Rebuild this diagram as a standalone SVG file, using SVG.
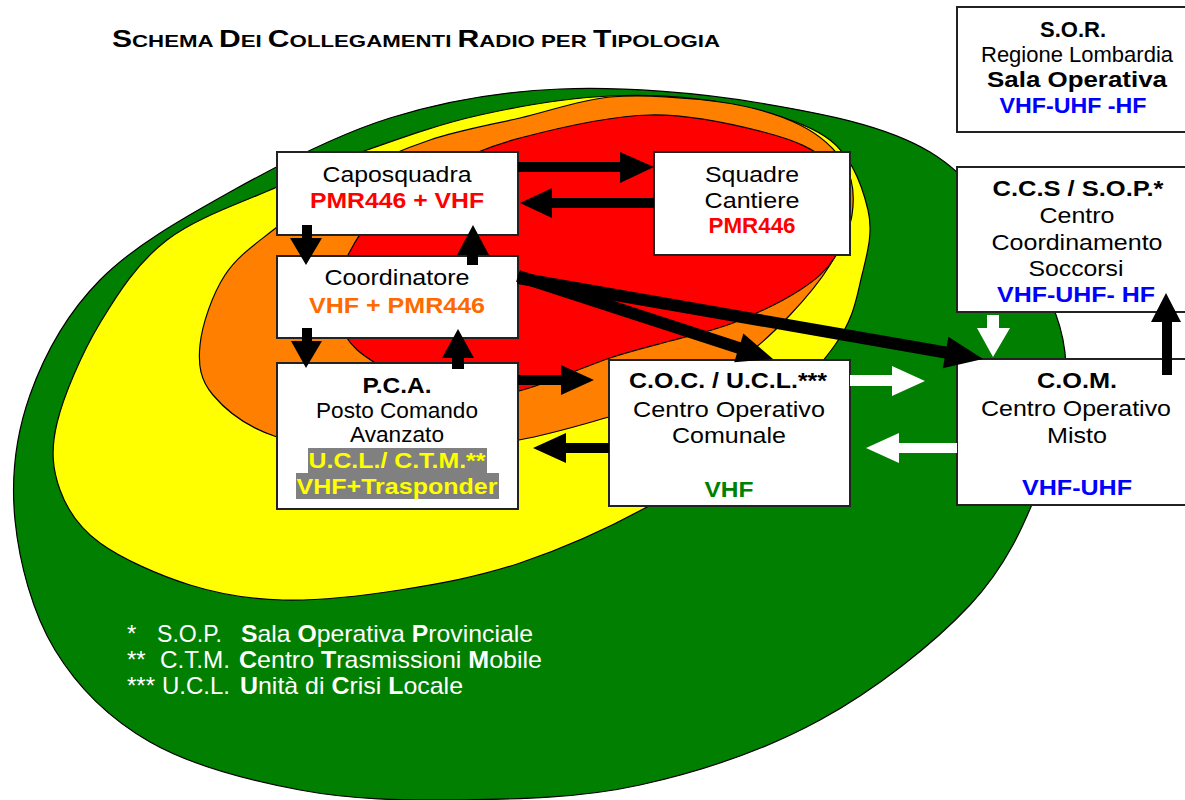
<svg xmlns="http://www.w3.org/2000/svg" width="1185" height="800" viewBox="0 0 1185 800">
<style>
text{font-family:"Liberation Sans",Arial,sans-serif;font-size:21.5px;fill:#000;text-anchor:middle}
.b{font-weight:bold;font-size:22px}
.box{fill:#fff;stroke:#222;stroke-width:2}
.zone{stroke:#000;stroke-width:1.2}
.blk{fill:#000}
.wht{fill:#fff}
.red{fill:#ff0000}
.org{fill:#ff6a00}
.blu{fill:#0000ff}
.grn{fill:#008000}
.yel{fill:#ffff00}
.leg{fill:#fff;text-anchor:start;font-size:24px}
.leg tspan.i{font-weight:bold}
</style>
<rect x="0" y="0" width="1185" height="800" fill="#fff"/>
<g id="zones">
<path class="zone" fill="#007f00" d="M560,89 C621.7,86.5 698.3,92.5 760,103 C821.7,113.5 885,125 930,152 C975,179 1007.3,229.5 1030,265 C1052.7,300.5 1064.3,328.3 1066,365 C1067.7,401.7 1056,445 1040,485 C1024,525 1006.7,565.8 970,605 C933.3,644.2 875,690 820,720 C765,750 700,771.7 640,785 C580,798.3 516.7,799.2 460,800 C403.3,800.8 351.7,799.7 300,790 C248.3,780.3 190.8,765.3 150,742 C109.2,718.7 77.5,687 55,650 C32.5,613 19.2,562.5 15,520 C10.8,477.5 15.8,435 30,395 C44.2,355 66.7,313.8 100,280 C133.3,246.2 181.7,219 230,192 C278.3,165 335,135.2 390,118 C445,100.8 498.3,91.5 560,89 Z"/>
<path class="zone" fill="#ffff00" d="M610,96 C651.7,94.2 693.3,96.7 730,104 C766.7,111.3 807,122.3 830,140 C853,157.7 862.7,187.5 868,210 C873.3,232.5 867.5,252.5 862,275 C856.5,297.5 854.5,317.5 835,345 C815.5,372.5 776.3,413 745,440 C713.7,467 684.5,486.5 647,507 C609.5,527.5 561.2,549.2 520,563 C478.8,576.8 439.5,583.8 400,590 C360.5,596.2 318,600.8 283,600 C248,599.2 220.5,594.5 190,585 C159.5,575.5 121.7,558.8 100,543 C78.3,527.2 67.2,510 60,490 C52.8,470 50.3,450.8 57,423 C63.7,395.2 81.7,353.5 100,323 C118.3,292.5 137.5,262.7 167,240 C196.5,217.3 243.7,202 277,187 C310.3,172 333.2,162 367,150 C400.8,138 439.5,124 480,115 C520.5,106 568.3,97.8 610,96 Z"/>
<path class="zone" fill="#ff8000" d="M610,97 C643.3,94.3 688.3,97.5 720,102 C751.7,106.5 779.2,114.5 800,125 C820.8,135.5 836.3,150 845,165 C853.7,180 854.5,198.3 852,215 C849.5,231.7 840.3,248.3 830,265 C819.7,281.7 805,299.2 790,315 C775,330.8 758.3,346.7 740,360 C721.7,373.3 701.8,385.5 680,395 C658.2,404.5 635.8,409.5 609,417 C582.2,424.5 553.8,433.5 519,440 C484.2,446.5 440.3,456.5 400,456 C359.7,455.5 308.2,447.2 277,437 C245.8,426.8 225.8,410.3 213,395 C200.2,379.7 198,365 200,345 C202,325 212.2,294.7 225,275 C237.8,255.3 256.2,243.7 277,227 C297.8,210.3 324.5,189.5 350,175 C375.5,160.5 401.7,149.5 430,140 C458.3,130.5 490,125 520,118 C550,111 576.7,100.7 610,97 Z"/>
<path class="zone" fill="#ff0000" d="M650,115 C691.2,114.2 737.3,125.2 767,133 C796.7,140.8 814.2,149.2 828,162 C841.8,174.8 848.8,194.2 850,210 C851.2,225.8 843.3,243.7 835,257 C826.7,270.3 817,279 800,290 C783,301 754.7,314.5 733,323 C711.3,331.5 690.5,335.2 670,341 C649.5,346.8 635.2,349.7 610,358 C584.8,366.3 545.7,384.2 519,391 C492.3,397.8 473.7,403.5 450,399 C426.3,394.5 394.5,374.7 377,364 C359.5,353.3 351.8,346.5 345,335 C338.2,323.5 335.5,308.3 336,295 C336.5,281.7 340.7,269.2 348,255 C355.3,240.8 364.7,224.2 380,210 C395.3,195.8 416.7,182 440,170 C463.3,158 485,147.2 520,138 C555,128.8 608.8,115.8 650,115 Z"/>
</g>
<text x="112" y="47" class="b" style="text-anchor:start" textLength="608" lengthAdjust="spacingAndGlyphs"><tspan font-size="23">S</tspan><tspan font-size="17">CHEMA </tspan><tspan font-size="23">D</tspan><tspan font-size="17">EI </tspan><tspan font-size="23">C</tspan><tspan font-size="17">OLLEGAMENTI </tspan><tspan font-size="23">R</tspan><tspan font-size="17">ADIO PER </tspan><tspan font-size="23">T</tspan><tspan font-size="17">IPOLOGIA</tspan></text>
<g id="sor">
<rect class="box" x="957" y="7" width="240" height="125"/>
<text class="b" x="1073" y="37" textLength="66" lengthAdjust="spacingAndGlyphs">S.O.R.</text>
<text x="1077" y="62" textLength="192" lengthAdjust="spacingAndGlyphs">Regione Lombardia</text>
<text class="b" x="1077" y="87" textLength="180" lengthAdjust="spacingAndGlyphs">Sala Operativa</text>
<text class="b blu" x="1073" y="113" textLength="147" lengthAdjust="spacingAndGlyphs">VHF-UHF -HF</text>
</g>
<g id="ccs">
<rect class="box" x="957" y="167" width="240" height="145"/>
<text class="b" x="1078" y="196" textLength="171" lengthAdjust="spacingAndGlyphs">C.C.S / S.O.P.*</text>
<text x="1077" y="223" textLength="75" lengthAdjust="spacingAndGlyphs">Centro</text>
<text x="1077" y="250" textLength="171" lengthAdjust="spacingAndGlyphs">Coordinamento</text>
<text x="1076" y="276" textLength="95" lengthAdjust="spacingAndGlyphs">Soccorsi</text>
<text class="b blu" x="1076" y="302" textLength="158" lengthAdjust="spacingAndGlyphs">VHF-UHF- HF</text>
</g>
<g id="caposquadra">
<rect class="box" x="277" y="152" width="241" height="83"/>
<text x="397" y="182" textLength="149" lengthAdjust="spacingAndGlyphs">Caposquadra</text>
<text class="b red" x="397" y="208" textLength="174" lengthAdjust="spacingAndGlyphs">PMR446 + VHF</text>
</g>
<g id="squadre">
<rect class="box" x="654" y="152" width="196" height="103"/>
<text x="752" y="182" textLength="94" lengthAdjust="spacingAndGlyphs">Squadre</text>
<text x="752" y="208" textLength="95" lengthAdjust="spacingAndGlyphs">Cantiere</text>
<text class="b red" x="752" y="233" textLength="87" lengthAdjust="spacingAndGlyphs">PMR446</text>
</g>
<g id="coordinatore">
<rect class="box" x="277" y="256" width="241" height="82"/>
<text x="397" y="285" textLength="145" lengthAdjust="spacingAndGlyphs">Coordinatore</text>
<text class="b org" x="397" y="313" textLength="176" lengthAdjust="spacingAndGlyphs">VHF + PMR446</text>
</g>
<g id="pca">
<rect class="box" x="277" y="363" width="241" height="146"/>
<rect x="308" y="448" width="179" height="25" fill="#808080"/>
<rect x="296" y="473" width="203" height="26" fill="#808080"/>
<text class="b" x="397" y="393" textLength="69" lengthAdjust="spacingAndGlyphs">P.C.A.</text>
<text x="397" y="418" textLength="162" lengthAdjust="spacingAndGlyphs">Posto Comando</text>
<text x="397" y="442" textLength="94" lengthAdjust="spacingAndGlyphs">Avanzato</text>
<text class="b yel" x="397" y="468" textLength="177" lengthAdjust="spacingAndGlyphs">U.C.L./ C.T.M.**</text>
<text class="b yel" x="397" y="494" textLength="201" lengthAdjust="spacingAndGlyphs">VHF+Trasponder</text>
</g>
<g id="coc">
<rect class="box" x="609" y="360" width="241" height="146"/>
<text class="b" x="728" y="388" textLength="198" lengthAdjust="spacingAndGlyphs">C.O.C. / U.C.L.***</text>
<text x="729" y="417" textLength="192" lengthAdjust="spacingAndGlyphs">Centro Operativo</text>
<text x="729" y="443" textLength="114" lengthAdjust="spacingAndGlyphs">Comunale</text>
<text class="b grn" x="729" y="497" textLength="49" lengthAdjust="spacingAndGlyphs">VHF</text>
</g>
<g id="com">
<rect class="box" x="957" y="359" width="240" height="146"/>
<text class="b" x="1077" y="388" textLength="80" lengthAdjust="spacingAndGlyphs">C.O.M.</text>
<text x="1076" y="416" textLength="190" lengthAdjust="spacingAndGlyphs">Centro Operativo</text>
<text x="1077" y="443" textLength="60" lengthAdjust="spacingAndGlyphs">Misto</text>
<text class="b blu" x="1077" y="495" textLength="110" lengthAdjust="spacingAndGlyphs">VHF-UHF</text>
</g>
<g id="connectors">
<polygon class="blk" points="518,162 620,162 620,152 654,167 620,183 620,172 518,172"/>
<polygon class="blk" points="654,198 552,198 552,188 520,203 552,218 552,208 654,208"/>
<polygon class="blk" points="302,225 312,225 312,238 322,238 306,265 290,238 302,238"/>
<polygon class="blk" points="467,265 467,255 457,255 473,225 489,255 478,255 478,265"/>
<polygon class="blk" points="302,328 312,328 312,341 322,341 306,368 291,341 302,341"/>
<polygon class="blk" points="452,369 452,358 442,358 458,329 474,358 464,358 464,369"/>
<polygon class="blk" points="518,375 561,375 561,365 594,380 561,395 561,385 518,385"/>
<polygon class="blk" points="609,443 566,443 566,433 533,448 566,463 566,453 609,453"/>
<polygon class="blk" points="519.9,270.3 740.7,342.2 743.4,333.6 773,359 734.2,362.2 736.9,353.6 516.1,281.7"/>
<polygon class="blk" points="519,272.1 946.6,346.6 948.4,336.7 983,359 942.8,368.3 944.6,358.4 517,283.9"/>
<polygon class="wht" points="850,375 892,375 892,366 925,381 892,396 892,386 850,386"/>
<polygon class="wht" points="957,443 899,443 899,433 866,448 899,463 899,453 957,453"/>
<polygon class="wht" points="987,315 999,315 999,328 1010,328 993,357 977,328 987,328"/>
<polygon class="blk" points="1162,375 1162,322 1151,322 1166,293 1181,322 1172,322 1172,375"/>
</g>
<g id="legend">
<text class="leg" x="127" y="642">*</text>
<text class="leg" x="157" y="642" textLength="65" lengthAdjust="spacingAndGlyphs">S.O.P.</text>
<text class="leg" x="241" y="642" textLength="292" lengthAdjust="spacingAndGlyphs"><tspan class="i">S</tspan>ala <tspan class="i">O</tspan>perativa <tspan class="i">P</tspan>rovinciale</text>
<text class="leg" x="127" y="668">**</text>
<text class="leg" x="160" y="668" textLength="70" lengthAdjust="spacingAndGlyphs">C.T.M.</text>
<text class="leg" x="239" y="668" textLength="303" lengthAdjust="spacingAndGlyphs"><tspan class="i">C</tspan>entro <tspan class="i">T</tspan>rasmissioni <tspan class="i">M</tspan>obile</text>
<text class="leg" x="127" y="694">***</text>
<text class="leg" x="162" y="694" textLength="68" lengthAdjust="spacingAndGlyphs">U.C.L.</text>
<text class="leg" x="240" y="694" textLength="223" lengthAdjust="spacingAndGlyphs"><tspan class="i">U</tspan>nità di <tspan class="i">C</tspan>risi <tspan class="i">L</tspan>ocale</text>
</g>
</svg>
